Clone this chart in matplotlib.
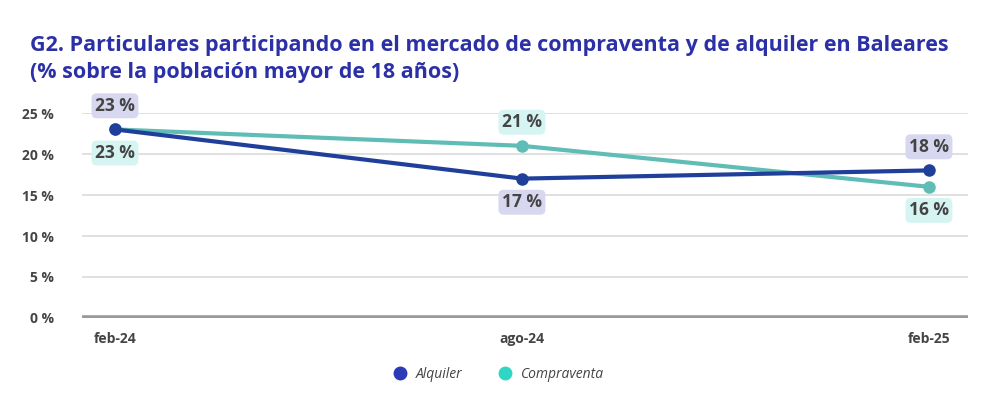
import matplotlib
matplotlib.use("Agg")
import matplotlib.pyplot as plt
from matplotlib.lines import Line2D

categories = ["feb-24", "ago-24", "feb-25"]
alquiler = [23, 17, 18]
compraventa = [23, 21, 16]
yticks = [0, 5, 10, 15, 20, 25]
ytick_labels = ["0 %", "5 %", "10 %", "15 %", "20 %", "25 %"]
# label position: 1 above, -1 below
alq_pos = [1, -1, 1]
com_pos = [-1, 1, -1]

c_alq = "#1f3f9a"
c_com = "#5fbdb6"
c_alq_leg = "#2b3ab5"
c_com_leg = "#2fd6c6"
box_alq = "#d7d7ef"
box_com = "#d6f5f2"
title_c = "#2b30a6"
txt_c = "#444444"

plt.rcParams['font.family'] = ['Open Sans', 'DejaVu Sans']

fig = plt.figure(figsize=(10, 4.11), dpi=100)
ax = fig.add_axes([0.082, 0.2263, 0.886, 0.4987])
x = list(range(len(categories)))

ax.set_xlim(-0.081, 2.096)
ax.set_ylim(0, 25)
for t in yticks[1:]:
    ax.axhline(t, color="#dddddd", lw=1.3, zorder=0)
ax.axhline(0, color="#999999", lw=4, zorder=1)

ax.plot(x, compraventa, color=c_com, lw=3, marker="o", ms=8, zorder=3, clip_on=False)
ax.plot(x, alquiler, color=c_alq, lw=3, marker="o", ms=8, zorder=4, clip_on=False)

def labels(vals, pos, box):
    for xi, v, p in zip(x, vals, pos):
        ax.annotate(f"{v} %", (xi, v), xytext=(0, 17 * p), textcoords="offset points",
                    ha="center", va="center", fontsize=12.5, fontweight="bold",
                    color=txt_c, annotation_clip=False, zorder=6,
                    bbox=dict(boxstyle="round,pad=0.2,rounding_size=0.3", fc=box, ec="none"))

labels(alquiler, alq_pos, box_alq)
labels(compraventa, com_pos, box_com)

ax.set_yticks(yticks)
ax.set_yticklabels(ytick_labels, fontsize=10, fontweight="bold", color=txt_c)
ax.set_xticks(x)
ax.set_xticklabels(categories, fontsize=10, fontweight="bold", color=txt_c)
ax.tick_params(axis="both", length=0)
ax.tick_params(axis="y", pad=20)
ax.tick_params(axis="x", pad=10)
for s in ax.spines.values():
    s.set_visible(False)

fig.text(0.03, 0.915, "G2. Particulares participando en el mercado de compraventa y de alquiler en Baleares\n(% sobre la población mayor de 18 años)",
         fontsize=15.5, fontweight="bold", color=title_c, ha="left", va="top", linespacing=1.35)

handles = [Line2D([], [], marker="o", ls="none", color=c_alq_leg, ms=9, label="Alquiler"),
           Line2D([], [], marker="o", ls="none", color=c_com_leg, ms=9, label="Compraventa")]
fig.legend(handles=handles, loc="center", bbox_to_anchor=(0.495, 0.09), ncol=2, frameon=False,
           prop=dict(style="italic", size=10), handletextpad=0.2, columnspacing=2.0, labelcolor=txt_c)

fig.savefig("out.png", dpi=100, facecolor="white")
